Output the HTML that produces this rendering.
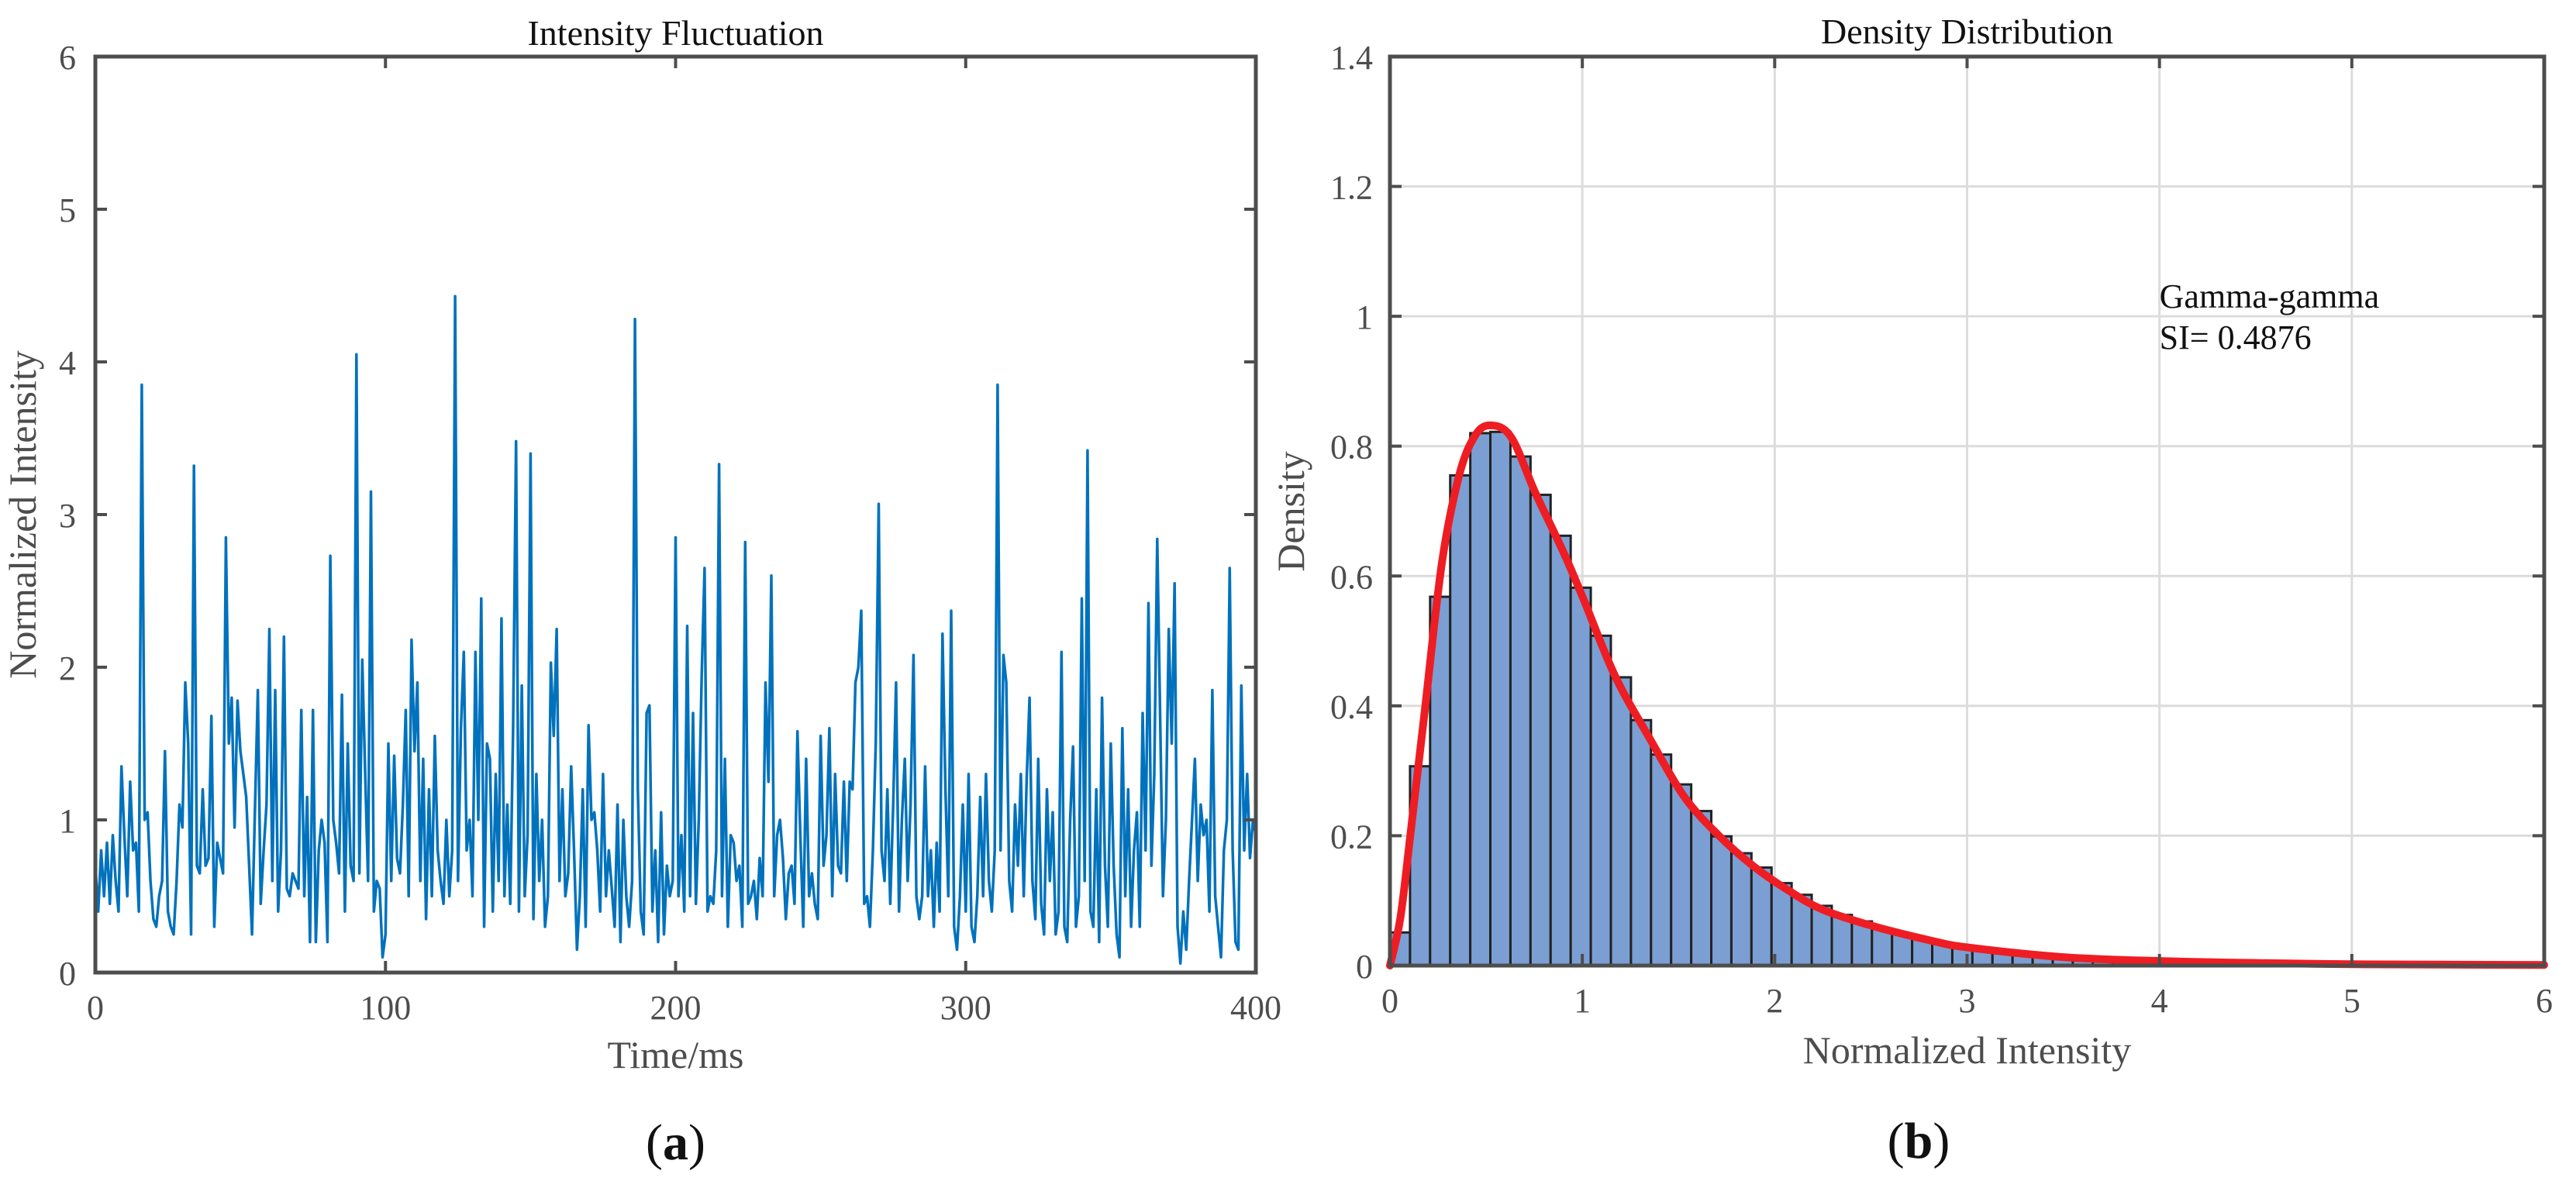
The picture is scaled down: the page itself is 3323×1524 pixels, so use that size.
<!DOCTYPE html>
<html><head><meta charset="utf-8"><style>
html,body{margin:0;padding:0;background:#fff;}
svg{display:block;font-family:"Liberation Serif",serif;}
</style></head><body>
<svg id="fig" width="3323" height="1524" viewBox="0 0 3323 1524" xmlns="http://www.w3.org/2000/svg">
<g id="left"></g>
<g id="right"></g>
</svg>
<script>
const timeSeries = [
0.7,0.4,0.8,0.5,0.85,0.45,0.9,0.6,0.4,1.35,
0.9,0.5,1.25,0.8,0.85,0.4,3.85,1.0,1.05,0.6,
0.35,0.3,0.5,0.6,1.45,0.4,0.3,0.25,0.6,1.1,
0.95,1.9,1.5,0.25,3.32,0.7,0.65,1.2,0.7,0.75,
1.68,0.3,0.85,0.75,0.65,2.85,1.5,1.8,0.95,1.78,
1.45,1.3,1.15,0.7,0.25,1.05,1.85,0.45,0.8,1.1,
2.25,0.6,1.85,0.4,0.8,2.2,0.55,0.5,0.65,0.6,
0.55,1.72,0.5,1.15,0.2,1.72,0.2,0.8,1.0,0.85,
0.2,2.73,1.0,0.85,0.65,1.82,0.4,1.5,0.7,0.6,
4.05,0.65,2.05,1.3,0.6,3.15,0.4,0.6,0.55,0.1,
0.25,1.5,0.6,1.42,0.75,0.65,1.1,1.72,0.5,2.18,
1.45,1.9,0.6,1.4,0.35,1.2,0.5,1.55,0.8,0.6,
0.45,1.0,0.5,0.8,4.43,0.6,1.6,2.1,0.8,1.0,
0.5,2.1,1.0,2.45,0.3,1.5,1.4,0.4,1.3,0.6,
2.32,0.5,1.1,0.45,1.6,3.48,0.4,1.88,0.5,0.9,
3.4,0.35,1.3,0.6,1.0,0.3,0.5,2.03,1.55,2.25,
0.6,1.2,0.5,0.65,1.35,0.8,0.15,0.5,1.2,0.3,
1.62,1.0,1.05,0.8,0.4,1.3,0.5,0.8,0.55,0.3,
1.1,0.2,1.0,0.5,0.3,0.6,4.28,1.2,0.4,0.25,
1.7,1.75,0.4,0.8,0.2,1.05,0.25,0.7,0.5,0.6,
2.85,0.5,0.9,0.4,2.27,0.5,1.7,0.45,1.0,1.95,
2.65,0.4,0.5,0.45,0.8,3.33,0.5,1.4,0.3,0.9,
0.85,0.6,0.7,0.3,2.82,0.45,0.5,0.6,0.35,0.75,
0.5,1.9,1.25,2.6,0.5,0.9,1.0,0.75,0.35,0.65,
0.7,0.45,1.58,0.9,0.3,1.4,0.5,0.65,0.45,0.35,
1.55,0.7,0.9,1.6,0.5,1.3,0.7,0.65,1.25,0.6,
1.25,1.2,1.9,2.0,2.37,0.45,0.5,0.3,0.8,1.5,
3.07,0.8,0.6,1.2,0.45,1.1,1.9,0.4,1.0,1.4,
0.6,1.1,2.08,0.5,0.35,0.5,1.35,0.5,0.8,0.3,
0.85,0.4,2.22,1.2,0.5,2.37,0.3,0.15,0.5,1.1,
0.4,1.3,0.3,0.2,0.5,1.15,0.5,1.3,0.6,0.4,
0.8,3.85,0.8,2.08,1.9,0.6,0.4,1.1,0.7,1.3,
0.5,1.25,1.8,0.6,0.35,1.4,0.45,0.25,1.2,0.6,
1.05,0.25,0.4,2.1,0.3,0.2,1.0,1.48,0.3,0.5,
2.45,0.6,3.42,0.4,0.3,1.2,0.2,1.8,0.7,0.3,
1.5,0.7,0.25,0.1,1.6,0.5,1.2,0.3,0.8,1.05,
0.3,1.7,0.8,2.42,0.7,1.3,2.84,1.7,0.5,1.0,
2.25,1.5,2.55,0.3,0.06,0.4,0.15,0.6,1.0,1.4,
0.6,1.1,0.9,1.0,0.4,1.85,0.5,0.3,0.1,0.8,
1.0,2.65,0.8,0.2,0.15,1.88,0.8,1.3,0.75,1.0,
0.9];
const timeStepMs = 1;
const leftXTicks = [0,100,200,300,400];
const leftYTicks = [0,1,2,3,4,5,6];

const binWidth = 0.1044;
const binHeights = [0.051,0.307,0.568,0.755,0.82,0.822,0.784,0.725,0.662,0.582,
0.508,0.444,0.378,0.325,0.279,0.238,0.199,0.173,0.151,0.127,
0.109,0.092,0.078,0.068,0.057,0.048,0.041,0.035,0.03,0.026,
0.022,0.019,0.016,0.014,0.012,0.01,0.008,0.007,0.006,0.005,
0.004,0.004,0.003,0.003,0.002,0.002,0.002,0.001,0.001,0.001,
0.001,0.001,0.001,0.001,0.0005,0.0005,0.0005];
const fitX = [0,0.054,0.108,0.18,0.27,0.36,0.44,0.52,0.63,0.756,0.9,1.008,1.17,1.35,1.53,1.71,1.89,2.07,2.25,2.52,2.82,3.0,3.5,4.0,4.5,5.0,6.0];
const fitY = [0,0.073,0.206,0.39,0.62,0.755,0.815,0.832,0.814,0.728,0.638,0.563,0.446,0.35,0.26,0.2,0.153,0.116,0.086,0.06,0.038,0.028,0.013,0.007,0.004,0.002,0.001];
const rightXTicks = [0,1,2,3,4,5,6];
const rightYTicks = [0,0.2,0.4,0.6,0.8,1,1.2,1.4];
const annotation = ["Gamma-gamma","SI= 0.4876"];

const NS = "http://www.w3.org/2000/svg";
function mk(parent, tag, attrs, text){
  const e = document.createElementNS(NS, tag);
  for (const k in attrs) e.setAttribute(k, attrs[k]);
  if (text !== undefined) e.textContent = text;
  parent.appendChild(e); return e;
}
const AX = "#4d4d4d";

(function(){
  const g = document.getElementById('left');
  const L=123, R=1620, T=73, B=1255;
  const xs = v => L + v/400*(R-L);
  const ys = v => B - v/6*(B-T);
  let d = "";
  timeSeries.forEach((v,i)=>{ d += (i?"L":"M") + xs(i*timeStepMs).toFixed(1) + "," + ys(v).toFixed(1); });
  const line = mk(g,'path',{d:d,fill:'none',stroke:'#0072BD','stroke-width':3.5,'stroke-linejoin':'round'});
  
  
  const box = mk(g,'rect',{x:L,y:T,width:R-L,height:B-T,fill:'none',stroke:AX,'stroke-width':5});
  
  
  leftXTicks.forEach(t=>{
    const x=xs(t);
    mk(g,'line',{x1:x,y1:B,x2:x,y2:B-15,stroke:AX,'stroke-width':4});
    mk(g,'line',{x1:x,y1:T,x2:x,y2:T+15,stroke:AX,'stroke-width':4});
    const lb = mk(g,'text',{x:x,y:B+60,'text-anchor':'middle','font-size':44,fill:AX},String(t));
    
    
  });
  leftYTicks.forEach(t=>{
    const y=ys(t);
    mk(g,'line',{x1:L,y1:y,x2:L+15,y2:y,stroke:AX,'stroke-width':4});
    mk(g,'line',{x1:R,y1:y,x2:R-15,y2:y,stroke:AX,'stroke-width':4});
    const lb = mk(g,'text',{x:L-25,y:y+16,'text-anchor':'end','font-size':44,fill:AX},String(t));
    
    
  });
  const tt = mk(g,'text',{x:(L+R)/2,y:58,'text-anchor':'middle','font-size':46,fill:'#111'},'Intensity Fluctuation');
  
  
  const xl = mk(g,'text',{x:(L+R)/2,y:1378,'text-anchor':'middle','font-size':50,fill:AX},'Time/ms');
  
  
  const yl = mk(g,'text',{x:0,y:0,'text-anchor':'middle','font-size':50,fill:AX,transform:'translate(46,664) rotate(-90)'},'Normalized Intensity');
  
  
  const cap = mk(g,'text',{x:(L+R)/2,y:1496,'text-anchor':'middle','font-size':66,fill:'#111'},'');
  
  
  mk(cap,'tspan',{},'(');
  mk(cap,'tspan',{'font-weight':'bold'},'a');
  mk(cap,'tspan',{},')');
})();

(function(){
  const g = document.getElementById('right');
  const L=1793, R=3282, T=73, B=1246;
  const xs = v => L + v/6*(R-L);
  const ys = v => B - v/1.4*(B-T);
  rightXTicks.forEach(t=>{ if(t>0&&t<6) mk(g,'line',{x1:xs(t),y1:T,x2:xs(t),y2:B,stroke:'#dcdcdc','stroke-width':3}); });
  rightYTicks.forEach(t=>{ if(t>0&&t<1.4) mk(g,'line',{x1:L,y1:ys(t),x2:R,y2:ys(t),stroke:'#dcdcdc','stroke-width':3}); });
  binHeights.forEach((h,i)=>{
    const x0 = xs(i*binWidth), x1 = xs((i+1)*binWidth);
    if (x0 >= R) return;
    const bar = mk(g,'rect',{x:x0,y:ys(h),width:Math.min(x1,R)-x0,height:B-ys(h),fill:'#7b9fd3',stroke:'#222','stroke-width':3});
    
    
  });
  const P = fitX.map((x,i)=>[xs(x), ys(fitY[i])]);
  let d = "M"+P[0][0]+","+P[0][1];
  for (let i=0;i<P.length-1;i++){
    const p0=P[Math.max(0,i-1)], p1=P[i], p2=P[i+1], p3=P[Math.min(P.length-1,i+2)];
    const c1=[p1[0]+(p2[0]-p0[0])/6, p1[1]+(p2[1]-p0[1])/6];
    const c2=[p2[0]-(p3[0]-p1[0])/6, p2[1]-(p3[1]-p1[1])/6];
    d += "C"+c1[0].toFixed(1)+","+c1[1].toFixed(1)+" "+c2[0].toFixed(1)+","+c2[1].toFixed(1)+" "+p2[0].toFixed(1)+","+p2[1].toFixed(1);
  }
  const fit = mk(g,'path',{d:d,fill:'none',stroke:'#ee1d23','stroke-width':10,'stroke-linecap':'round'});
  
  
  const box = mk(g,'rect',{x:L,y:T,width:R-L,height:B-T,fill:'none',stroke:AX,'stroke-width':5});
  
  
  rightXTicks.forEach(t=>{
    const x=xs(t);
    mk(g,'line',{x1:x,y1:B,x2:x,y2:B-15,stroke:AX,'stroke-width':4});
    mk(g,'line',{x1:x,y1:T,x2:x,y2:T+15,stroke:AX,'stroke-width':4});
    const lb = mk(g,'text',{x:x,y:B+60,'text-anchor':'middle','font-size':44,fill:AX},String(t));
    
    
  });
  rightYTicks.forEach(t=>{
    const y=ys(t);
    mk(g,'line',{x1:L,y1:y,x2:L+15,y2:y,stroke:AX,'stroke-width':4});
    mk(g,'line',{x1:R,y1:y,x2:R-15,y2:y,stroke:AX,'stroke-width':4});
    const lb = mk(g,'text',{x:L-22,y:y+16,'text-anchor':'end','font-size':44,fill:AX},String(t));
    
    
  });
  const tt = mk(g,'text',{x:(L+R)/2,y:56,'text-anchor':'middle','font-size':46,fill:'#111'},'Density Distribution');
  
  
  const xl = mk(g,'text',{x:(L+R)/2,y:1372,'text-anchor':'middle','font-size':50,fill:AX},'Normalized Intensity');
  
  
  const yl = mk(g,'text',{x:0,y:0,'text-anchor':'middle','font-size':50,fill:AX,transform:'translate(1682,660) rotate(-90)'},'Density');
  
  
  annotation.forEach((s,i)=>{
    const a = mk(g,'text',{x:xs(4),y:397+i*53,'font-size':44,fill:'#111'},s);
    
    
  });
  const cap = mk(g,'text',{x:2475,y:1494,'text-anchor':'middle','font-size':66,fill:'#111'},'');
  
  
  mk(cap,'tspan',{},'(');
  mk(cap,'tspan',{'font-weight':'bold'},'b');
  mk(cap,'tspan',{},')');
})();
</script>
</body></html>
